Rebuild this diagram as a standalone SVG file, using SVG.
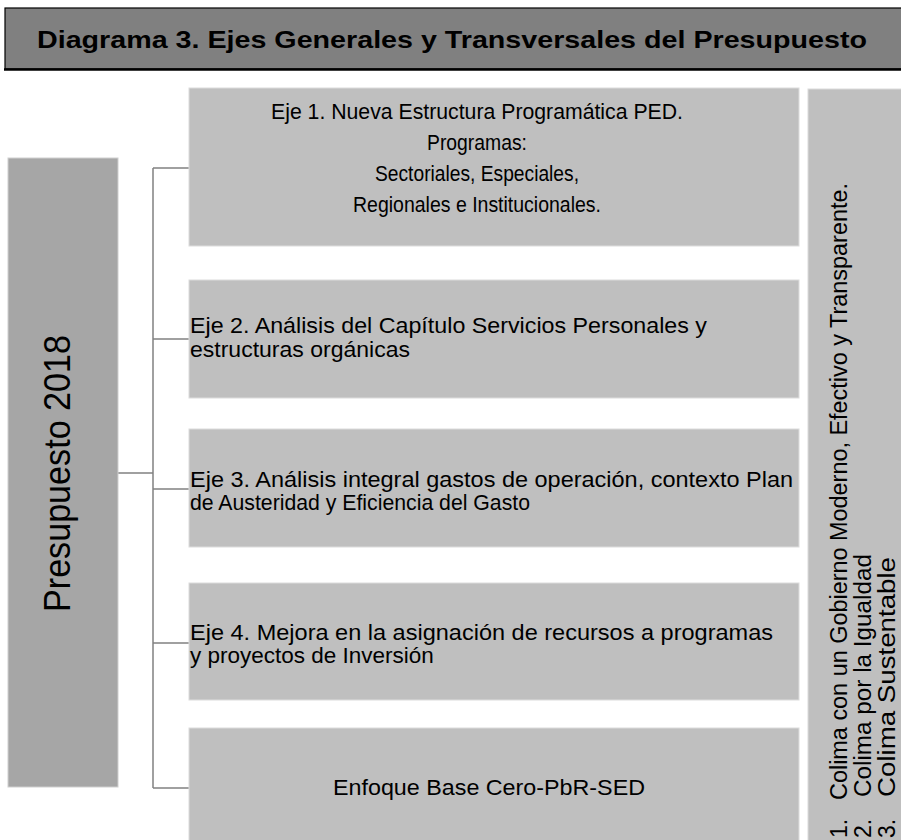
<svg xmlns="http://www.w3.org/2000/svg" width="901" height="840" viewBox="0 0 901 840">
<style>
text{font-family:"Liberation Sans",Arial,sans-serif;fill:#000}
.box{fill:#bfbfbf;stroke:#dcdcdc;stroke-width:1}
.t{font-size:22.5px}
.n{font-size:22px}
.r{font-size:23px}
.conn{stroke:#808080;stroke-width:1.5;fill:none}
</style>
<rect x="0" y="0" width="901" height="840" fill="#ffffff"/>
<g id="title">
<rect x="5" y="8" width="910" height="61" fill="#808080" stroke="#000" stroke-width="1.2"/>
<line x1="4" y1="69.5" x2="901" y2="69.5" stroke="#000" stroke-width="2.5"/>
<text x="452" y="48" text-anchor="middle" font-size="24" font-weight="bold" textLength="830" lengthAdjust="spacingAndGlyphs">Diagrama 3. Ejes Generales y Transversales del Presupuesto</text>
</g>
<g id="connectors">
<line class="conn" x1="118" y1="473" x2="153" y2="473"/>
<line class="conn" x1="153" y1="168" x2="153" y2="788"/>
<line class="conn" x1="153" y1="168" x2="189" y2="168"/>
<line class="conn" x1="153" y1="339" x2="189" y2="339"/>
<line class="conn" x1="153" y1="489" x2="189" y2="489"/>
<line class="conn" x1="153" y1="643" x2="189" y2="643"/>
<line class="conn" x1="153" y1="788" x2="189" y2="788"/>
</g>
<g id="presupuesto">
<rect x="8" y="158" width="110" height="629" fill="#a6a6a6" stroke="#cfcfcf" stroke-width="1"/>
<text transform="translate(70,473.5) rotate(-90)" text-anchor="middle" font-size="36" textLength="277" lengthAdjust="spacingAndGlyphs">Presupuesto 2018</text>
</g>
<g id="eje1">
<rect class="box" x="189" y="88" width="610" height="158"/>
<text class="n" x="477" y="119" text-anchor="middle" textLength="412" lengthAdjust="spacingAndGlyphs">Eje 1. Nueva Estructura Programática PED.</text>
<text class="n" x="477" y="150" text-anchor="middle" textLength="100" lengthAdjust="spacingAndGlyphs">Programas:</text>
<text class="n" x="477" y="181" text-anchor="middle" textLength="204" lengthAdjust="spacingAndGlyphs">Sectoriales, Especiales,</text>
<text class="n" x="477" y="212" text-anchor="middle" textLength="248" lengthAdjust="spacingAndGlyphs">Regionales e Institucionales.</text>
</g>
<g id="eje2">
<rect class="box" x="189" y="280" width="610" height="118"/>
<text class="t" x="190" y="333" textLength="517" lengthAdjust="spacingAndGlyphs">Eje 2. Análisis del Capítulo Servicios Personales y</text>
<text class="t" x="190" y="357" textLength="220" lengthAdjust="spacingAndGlyphs">estructuras  orgánicas</text>
</g>
<g id="eje3">
<rect class="box" x="189" y="429" width="610" height="118"/>
<text class="t" x="190" y="487" textLength="603" lengthAdjust="spacingAndGlyphs">Eje 3. Análisis integral gastos de operación, contexto Plan</text>
<text class="t" x="190" y="510" textLength="340" lengthAdjust="spacingAndGlyphs">de Austeridad y Eficiencia del Gasto</text>
</g>
<g id="eje4">
<rect class="box" x="189" y="583" width="610" height="117"/>
<text class="t" x="190" y="640" textLength="583" lengthAdjust="spacingAndGlyphs">Eje 4.  Mejora en la asignación de recursos a programas</text>
<text class="t" x="190" y="663">y proyectos de Inversión</text>
</g>
<g id="enfoque">
<rect class="box" x="189" y="728" width="610" height="120"/>
<text class="n" x="489" y="795" text-anchor="middle" textLength="312" lengthAdjust="spacingAndGlyphs">Enfoque Base Cero-PbR-SED</text>
</g>
<g id="colima">
<rect x="808" y="89" width="100" height="760" fill="#bfbfbf" stroke="#dcdcdc" stroke-width="1"/>
<g class="r">
<text transform="translate(847,838) rotate(-90)"><tspan x="0">1.</tspan><tspan x="38" textLength="617" lengthAdjust="spacingAndGlyphs">Colima con un Gobierno Moderno, Efectivo y Transparente.</tspan></text>
<text transform="translate(871,838) rotate(-90)"><tspan x="0">2.</tspan><tspan x="41" textLength="243" lengthAdjust="spacingAndGlyphs">Colima por la Igualdad</tspan></text>
<text transform="translate(895,838) rotate(-90)"><tspan x="0">3.</tspan><tspan x="41" textLength="240" lengthAdjust="spacingAndGlyphs">Colima Sustentable</tspan></text>
</g>
</g>
</svg>
